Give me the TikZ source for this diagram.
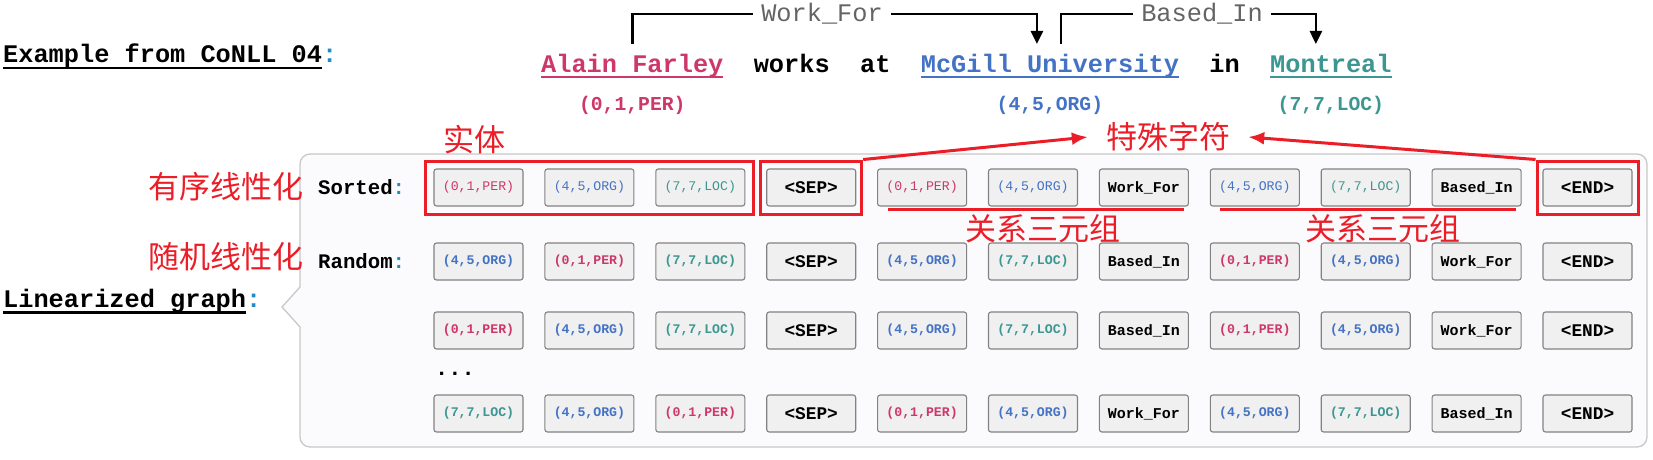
\documentclass[tikz,border=0pt]{standalone}
\usepackage{fontspec}
\newfontfamily\cjk{Noto Sans CJK SC}
\newfontfamily\cour{Liberation Mono}
\usepackage{tikz}
\usetikzlibrary{positioning,fit,arrows.meta}

\definecolor{percol}{RGB}{205,55,105}
\definecolor{orgcol}{RGB}{68,114,196}
\definecolor{loccol}{RGB}{60,150,145}
\definecolor{colonblue}{RGB}{30,140,200}
\definecolor{annred}{RGB}{235,30,40}
\definecolor{boxfill}{RGB}{240,240,241}
\definecolor{boxdraw}{RGB}{130,130,130}
\definecolor{panelfill}{RGB}{251,250,253}
\definecolor{paneldraw}{RGB}{200,200,200}
\definecolor{relgrey}{RGB}{100,100,100}

\newcommand\ulbox[1]{\setbox0\hbox{#1}\rlap{\rule[-6.5pt]{\wd0}{2.4pt}}\box0}
\newcommand\tper{\textcolor{percol}{(0,1,PER)}}
\newcommand\torg{\textcolor{orgcol}{(4,5,ORG)}}
\newcommand\tloc{\textcolor{loccol}{(7,7,LOC)}}
\newcommand\tsep{\fontsize{17.8}{20}\selectfont<SEP>}
\newcommand\tend{\fontsize{17.8}{20}\selectfont<END>}
\newcommand\twf{\fontsize{15}{18}\selectfont Work\_For}
\newcommand\tbi{\fontsize{15}{18}\selectfont Based\_In}

\begin{document}
\begin{tikzpicture}[x=1pt,y=-1pt,node distance=21.9pt,
  tok/.style={draw=boxdraw,fill=boxfill,line width=1.1pt,rounded corners=2.5pt,minimum width=89pt,minimum height=37pt,inner sep=0pt,outer sep=0pt,font=\cour\bfseries\fontsize{13.2}{16}\selectfont},
  tokm/.style={tok,font=\cour\mdseries\fontsize{13.2}{16}\selectfont},
  word/.style={inner sep=0pt,font=\cour\bfseries\fontsize{25.3}{30}\selectfont},
  tup/.style={inner sep=0pt,font=\cour\bfseries\fontsize{19.7}{24}\selectfont},
  rlab/.style={inner xsep=8pt,inner ysep=0pt,text=relgrey,font=\cour\fontsize{25.3}{30}\selectfont},
  rel/.style={line width=2.5pt},
  lbl/.style={inner sep=0pt,anchor=west,font=\cour\bfseries\fontsize{20.7}{24}\selectfont},
  ann/.style={inner sep=0pt,text=annred,font=\cjk\fontsize{31}{36}\selectfont},
  redbox/.style={draw=annred,line width=3pt,inner xsep=6pt,inner ysep=8pt},
  redline/.style={draw=annred,line width=3pt},
  panel/.style={draw=paneldraw,fill=panelfill,line width=1.3pt}]
\useasboundingbox (0,0) rectangle (1653,460);
\draw[panel] (300,327) -- (282,307) -- (300,287) -- (300,270) [rounded corners=10pt] -- (300,154) -- (1647,154) -- (1647,447) -- (300,447) -- (300,340) [sharp corners] -- cycle;

% sentence
\node[word,anchor=base west] (ex) at (3,63) {\ulbox{Example from CoNLL 04}\textcolor{colonblue}{:}};
\node[word,anchor=base west] (w1) at (541,72) {\textcolor{percol}{\ulbox{Alain Farley}}}; \node[word,base right=30pt of w1] (w2) {works}; \node[word,base right=30pt of w2] (w3) {at};
\node[word,base right=30pt of w3] (w4) {\textcolor{orgcol}{\ulbox{McGill University}}}; \node[word,base right=30pt of w4] (w5) {in}; \node[word,base right=30pt of w5] (w6) {\textcolor{loccol}{\ulbox{Montreal}}};
\node[tup] (t1) at ([yshift=-33pt]w1.base) {\tper}; \node[tup] (t2) at ([yshift=-33pt]w4.base) {\torg}; \node[tup] (t3) at ([yshift=-33pt]w6.base) {\tloc};
\coordinate (rt) at (0,44);
\node[rlab] (wf) at (822,14) {Work\_For}; \node[rlab] (bi) at (1202,14) {Based\_In};
\draw[rel] (w1 |- rt) |- (wf.west); \draw[rel,-{Triangle[length=13pt,width=12pt]}] (wf.east) -| ([xshift=-13pt]w4 |- rt);
\draw[rel] ([xshift=11pt]w4 |- rt) |- (bi.west); \draw[rel,-{Triangle[length=13pt,width=12pt]}] (bi.east) -| ([xshift=-15pt]w6 |- rt);

% linearized graph
\node[word,anchor=base west] (lg) at (3,307) {\ulbox{Linearized graph}\textcolor{colonblue}{:}};
\node[lbl] (so) at (318,187.5) {Sorted\textcolor{colonblue}{:}}; \node[lbl] (ra) at (318,261.5) {Random\textcolor{colonblue}{:}};
\node[tokm] (s1) at (478.5,187.5) {\tper}; \node[tokm,right=of s1] (s2) {\torg}; \node[tokm,right=of s2] (s3) {\tloc}; \node[tok,right=of s3] (s4) {\tsep}; \node[tokm,right=of s4] (s5) {\tper}; \node[tokm,right=of s5] (s6) {\torg};
\node[tok,right=of s6] (s7) {\twf}; \node[tokm,right=of s7] (s8) {\torg}; \node[tokm,right=of s8] (s9) {\tloc}; \node[tok,right=of s9] (s10) {\tbi}; \node[tok,right=of s10] (s11) {\tend};
\node[tok] (r1) at (478.5,261.5) {\torg}; \node[tok,right=of r1] (r2) {\tper}; \node[tok,right=of r2] (r3) {\tloc}; \node[tok,right=of r3] (r4) {\tsep}; \node[tok,right=of r4] (r5) {\torg}; \node[tok,right=of r5] (r6) {\tloc};
\node[tok,right=of r6] (r7) {\tbi}; \node[tok,right=of r7] (r8) {\tper}; \node[tok,right=of r8] (r9) {\torg}; \node[tok,right=of r9] (r10) {\twf}; \node[tok,right=of r10] (r11) {\tend};
\node[tok] (a1) at (478.5,330.5) {\tper}; \node[tok,right=of a1] (a2) {\torg}; \node[tok,right=of a2] (a3) {\tloc}; \node[tok,right=of a3] (a4) {\tsep}; \node[tok,right=of a4] (a5) {\torg}; \node[tok,right=of a5] (a6) {\tloc};
\node[tok,right=of a6] (a7) {\tbi}; \node[tok,right=of a7] (a8) {\tper}; \node[tok,right=of a8] (a9) {\torg}; \node[tok,right=of a9] (a10) {\twf}; \node[tok,right=of a10] (a11) {\tend};
\node[inner sep=0pt,font=\cour\bfseries\fontsize{22}{24}\selectfont] (dots) at (455,374) {...};
\node[tok] (b1) at (478.5,413.5) {\tloc}; \node[tok,right=of b1] (b2) {\torg}; \node[tok,right=of b2] (b3) {\tper}; \node[tok,right=of b3] (b4) {\tsep}; \node[tok,right=of b4] (b5) {\tper}; \node[tok,right=of b5] (b6) {\torg};
\node[tok,right=of b6] (b7) {\twf}; \node[tok,right=of b7] (b8) {\torg}; \node[tok,right=of b8] (b9) {\tloc}; \node[tok,right=of b9] (b10) {\tbi}; \node[tok,right=of b10] (b11) {\tend};

% annotations
\node[redbox,inner xsep=9pt,fit=(s1)(s3)] (ent) {}; \node[redbox,fit=(s4)] (sepb) {}; \node[redbox,fit=(s11)] (endb) {};
\node[ann] (shiti) at (474,140) {实体}; \node[ann,inner xsep=18pt] (spc) at (1168,137) {特殊字符};
\node[ann] (yx) at (226,187) {有序线性化}; \node[ann] (sj) at (226,257) {随机线性化};
\draw[redline,-{Latex[length=16pt,width=13pt]}] (sepb.north east) -- (spc.west); \draw[redline,-{Latex[length=16pt,width=13pt]}] (endb.north west) -- (spc.east);
\draw[redline] ([xshift=10pt,yshift=-3pt]s5.south west) -- ([xshift=-4pt,yshift=-3pt]s7.south east); \node[ann] (g1) at (1043,229) {关系三元组};
\draw[redline] ([xshift=10pt,yshift=-3pt]s8.south west) -- ([xshift=-5pt,yshift=-3pt]s10.south east); \node[ann] (g2) at (1383,229) {关系三元组};
\end{tikzpicture}
\end{document}
